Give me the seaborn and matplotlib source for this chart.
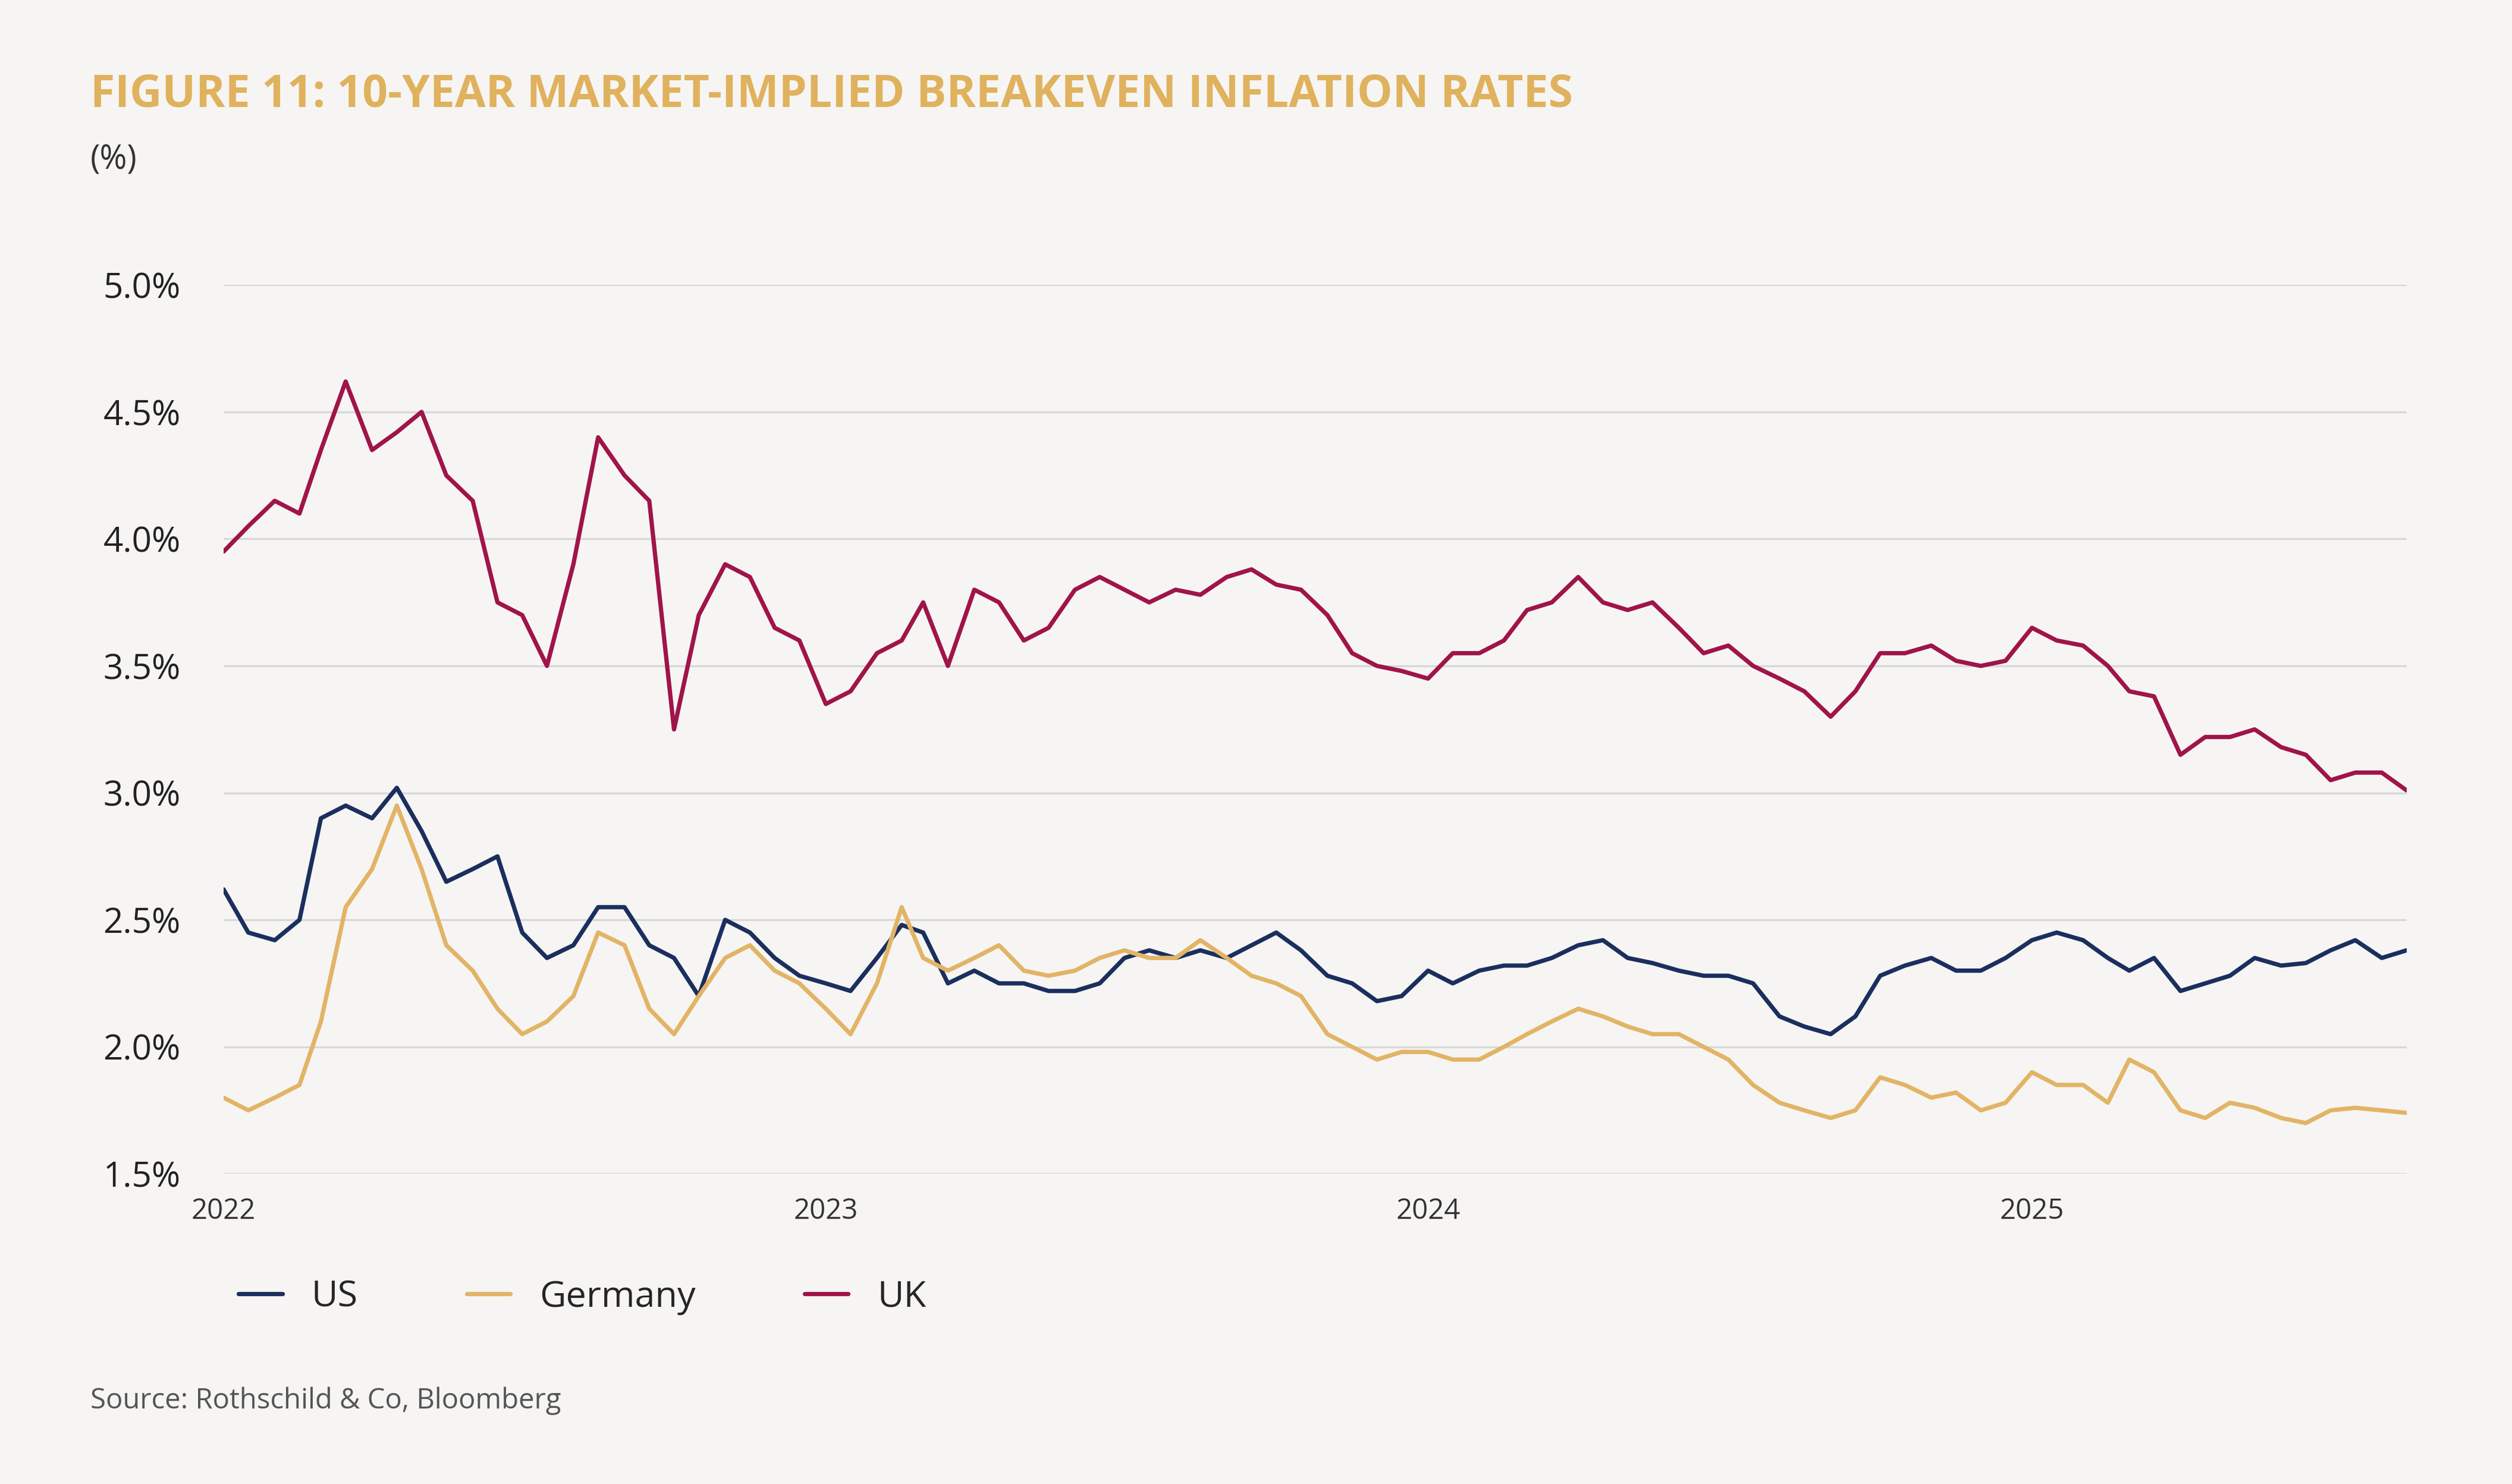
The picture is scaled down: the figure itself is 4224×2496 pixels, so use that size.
import pandas as pd
import numpy as np
import matplotlib
matplotlib.use("Agg")
import matplotlib.pyplot as plt
import seaborn as sns

# ── Data: readings on the 1st and 16th of each month, Jan 2022 – Aug 2025 ──
dates = [pd.Timestamp(y, m, d) for y in range(2022, 2026) for m in range(1, 13)
         for d in (1, 16) if not (y == 2025 and m > 8)]

uk = [3.95, 4.05, 4.15, 4.10, 4.35, 4.62, 4.35, 4.42, 4.50, 4.25, 4.15, 3.75,
      3.70, 3.50, 3.90, 4.40, 4.25, 4.15, 3.25, 3.70, 3.90, 3.85, 3.65, 3.60,
      3.35, 3.40, 3.55, 3.60, 3.75, 3.50, 3.80, 3.75, 3.60, 3.65, 3.80, 3.85,
      3.80, 3.75, 3.80, 3.78, 3.85, 3.88, 3.82, 3.80, 3.70, 3.55, 3.50, 3.48,
      3.45, 3.55, 3.55, 3.60, 3.72, 3.75, 3.85, 3.75, 3.72, 3.75, 3.65, 3.55,
      3.58, 3.50, 3.45, 3.40, 3.30, 3.40, 3.55, 3.55, 3.58, 3.52, 3.50, 3.52,
      3.65, 3.60, 3.58, 3.50, 3.40, 3.38, 3.15, 3.22, 3.22, 3.25, 3.18, 3.15,
      3.05, 3.08, 3.08, 3.01]

us = [2.62, 2.45, 2.42, 2.50, 2.90, 2.95, 2.90, 3.02, 2.85, 2.65, 2.70, 2.75,
      2.45, 2.35, 2.40, 2.55, 2.55, 2.40, 2.35, 2.20, 2.50, 2.45, 2.35, 2.28,
      2.25, 2.22, 2.35, 2.48, 2.45, 2.25, 2.30, 2.25, 2.25, 2.22, 2.22, 2.25,
      2.35, 2.38, 2.35, 2.38, 2.35, 2.40, 2.45, 2.38, 2.28, 2.25, 2.18, 2.20,
      2.30, 2.25, 2.30, 2.32, 2.32, 2.35, 2.40, 2.42, 2.35, 2.33, 2.30, 2.28,
      2.28, 2.25, 2.12, 2.08, 2.05, 2.12, 2.28, 2.32, 2.35, 2.30, 2.30, 2.35,
      2.42, 2.45, 2.42, 2.35, 2.30, 2.35, 2.22, 2.25, 2.28, 2.35, 2.32, 2.33,
      2.38, 2.42, 2.35, 2.38]

germany = [1.80, 1.75, 1.80, 1.85, 2.10, 2.55, 2.70, 2.95, 2.70, 2.40, 2.30, 2.15,
           2.05, 2.10, 2.20, 2.45, 2.40, 2.15, 2.05, 2.20, 2.35, 2.40, 2.30, 2.25,
           2.15, 2.05, 2.25, 2.55, 2.35, 2.30, 2.35, 2.40, 2.30, 2.28, 2.30, 2.35,
           2.38, 2.35, 2.35, 2.42, 2.35, 2.28, 2.25, 2.20, 2.05, 2.00, 1.95, 1.98,
           1.98, 1.95, 1.95, 2.00, 2.05, 2.10, 2.15, 2.12, 2.08, 2.05, 2.05, 2.00,
           1.95, 1.85, 1.78, 1.75, 1.72, 1.75, 1.88, 1.85, 1.80, 1.82, 1.75, 1.78,
           1.90, 1.85, 1.85, 1.78, 1.95, 1.90, 1.75, 1.72, 1.78, 1.76, 1.72, 1.70,
           1.75, 1.76, 1.75, 1.74]

series_names = ["US", "Germany", "UK"]
colors = {"US": "#1B2F5E", "Germany": "#E2B466", "UK": "#A0144A"}
year_ticks = [pd.Timestamp(y, 1, 1) for y in (2022, 2023, 2024, 2025)]
y_ticks = [1.5, 2.0, 2.5, 3.0, 3.5, 4.0, 4.5, 5.0]

df = pd.DataFrame({"date": dates, "US": us, "Germany": germany, "UK": uk})
long_df = df.melt(id_vars="date", var_name="series", value_name="rate")

# ── Plot ──
bg = "#F6F5F3"
sns.set_theme(style="white")
plt.rcParams["font.family"] = ["Open Sans", "DejaVu Sans"]

fig = plt.figure(figsize=(21.12, 12.48), dpi=200, facecolor=bg)
ax = fig.add_axes([0.089, 0.209, 0.869, 0.599], facecolor=bg)

sns.lineplot(data=long_df, x="date", y="rate", hue="series", hue_order=series_names,
             palette=colors, linewidth=2.6, ax=ax, legend=False)

ax.set_xlim(pd.Timestamp(2022, 1, 1), dates[-1])
ax.set_ylim(1.5, 5.0)
ax.set_yticks(y_ticks)
ax.set_yticklabels([f"{v:.1f}%" for v in y_ticks], fontsize=21, color="#222222")
ax.set_xticks(year_ticks)
ax.set_xticklabels([str(d.year) for d in year_ticks], fontsize=17, color="#333333")
ax.tick_params(axis="y", length=0, pad=26)
ax.tick_params(axis="x", length=0, pad=14)
ax.grid(axis="y", color="#D8D8D8", linewidth=1.2)
ax.set_axisbelow(True)
for s in ax.spines.values():
    s.set_visible(False)
ax.set_xlabel("")
ax.set_ylabel("")

# Title, unit, legend, source
fig.text(0.036, 0.936, "FIGURE 11: 10-YEAR MARKET-IMPLIED BREAKEVEN INFLATION RATES",
         fontsize=27, fontweight="bold", color="#E0B25E", va="center")
fig.text(0.036, 0.892, "(%)", fontsize=20, color="#333333", va="center")

handles = [plt.Line2D([], [], color=colors[n], linewidth=2.6) for n in series_names]
fig.legend(handles, series_names, loc="center left", bbox_to_anchor=(0.082, 0.126),
           ncol=3, frameon=False, fontsize=22, handlelength=1.2, columnspacing=3.0)

fig.text(0.036, 0.056, "Source: Rothschild & Co, Bloomberg", fontsize=17,
         color="#555555", va="center")

fig.savefig("out.png", dpi=200, facecolor=bg)
